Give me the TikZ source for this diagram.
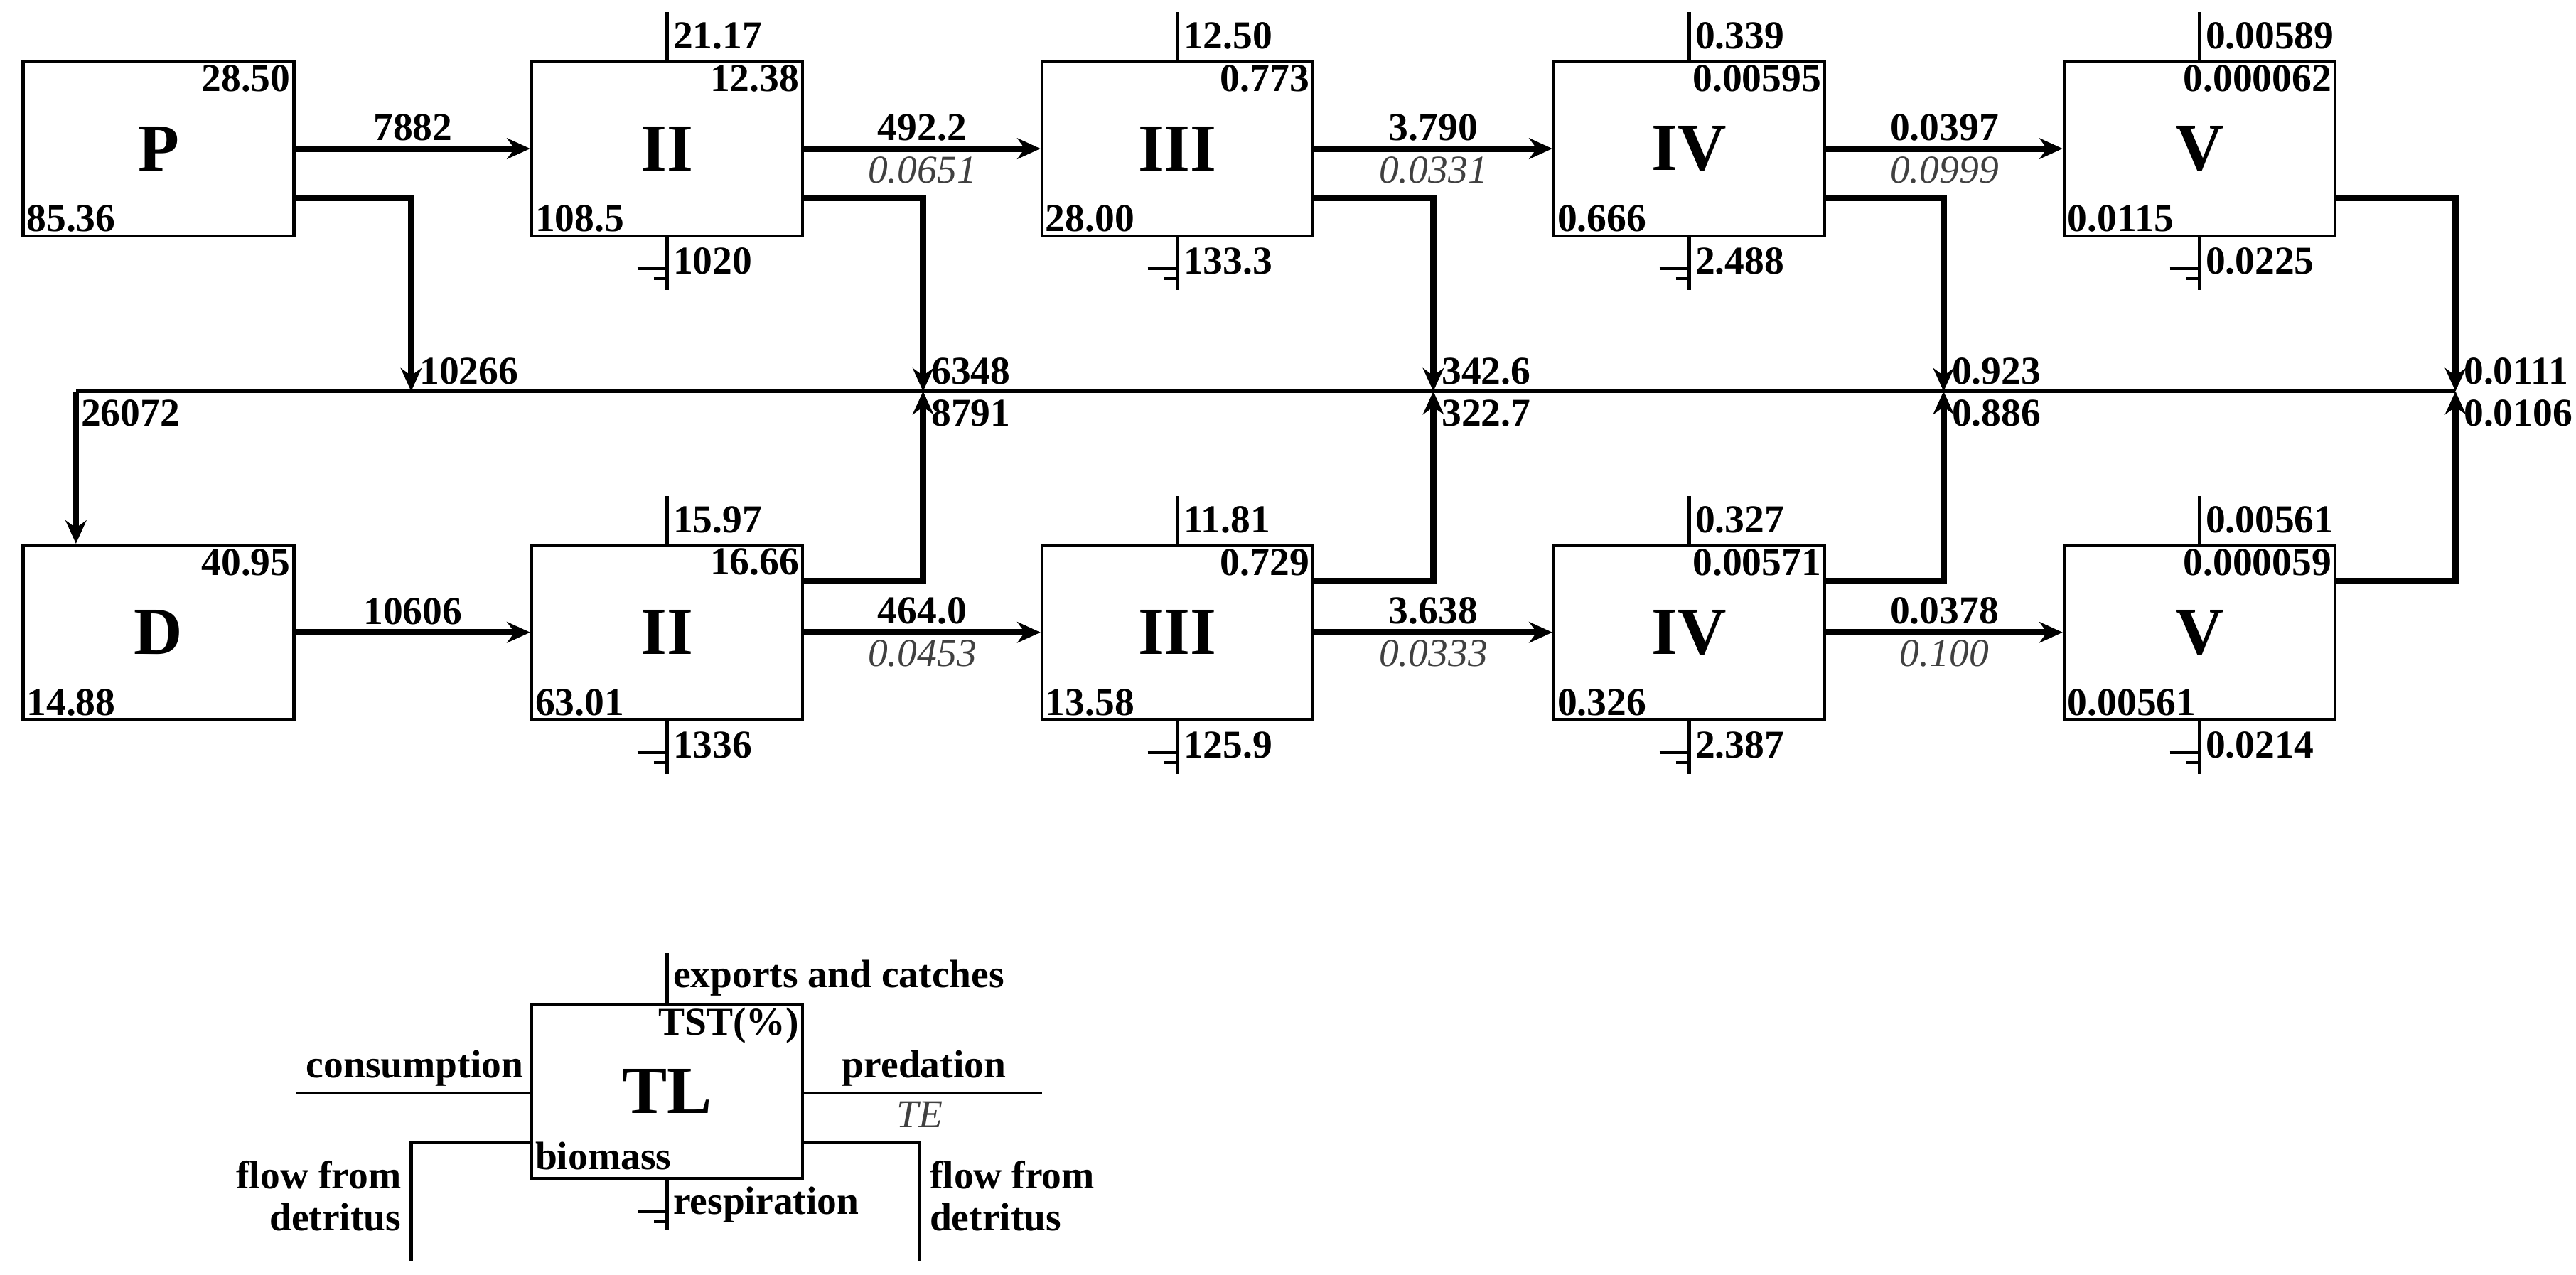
\documentclass[tikz,border=0pt]{standalone}
\usepackage{fontspec}
\setmainfont{Liberation Serif}
\usetikzlibrary{arrows.meta,calc}
\begin{document}
\begin{tikzpicture}[x=0.025cm,y=-0.025cm,
 box/.style={draw,line width=1.3pt,minimum width=4.1cm,minimum height=2.64cm,inner sep=0pt,font=\fontsize{29}{30}\selectfont\bfseries},
 val/.style={font=\fontsize{17}{18}\selectfont\bfseries,inner sep=2pt},
 te/.style={font=\fontsize{17}{18}\selectfont\itshape,text=black!75,inner sep=2pt},
 flow/.style={line width=2.8pt,-{Stealth[length=10pt,width=9pt]}},
 fl/.style={line width=2.8pt},
 thn/.style={line width=1.3pt}]
\useasboundingbox (0,0) rectangle (1560,772);
% boxes
\foreach \n/\t/\x in {P/P/96,A/II/404,B/III/713,C/IV/1023,E/V/1332}
  \node[box] (t\n) at (\x,90) {\t};
\foreach \n/\t/\x in {P/D/96,A/II/404,B/III/713,C/IV/1023,E/V/1332}
  \node[box] (b\n) at (\x,383) {\t};
% corner values
\foreach \n/\a/\b in {tP/28.50/85.36,tA/12.38/108.5,tB/0.773/28.00,tC/0.00595/0.666,tE/0.000062/0.0115,
 bP/40.95/14.88,bA/16.66/63.01,bB/0.729/13.58,bC/0.00571/0.326,bE/0.000059/0.00561}{
  \node[val,anchor=north east] (\n ne) at (\n.north east) {\a};
  \node[val,anchor=south west] (\n sw) at (\n.south west) {\b};}
% exports and respiration
\foreach \n/\a/\b in {tA/21.17/1020,tB/12.50/133.3,tC/0.339/2.488,tE/0.00589/0.0225,
 bA/15.97/1336,bB/11.81/125.9,bC/0.327/2.387,bE/0.00561/0.0214}{
  \draw[thn] (\n.north) -- ++(0,-29) node[pos=0.5,right,val] (\n ex) {\a};
  \draw[thn] (\n.south) -- ++(0,32) node[pos=0.45,right,val] (\n rs) {\b};
  \draw[thn] ($(\n.south)+(-18,19)$) -- ($(\n.south)+(0,19)$);
  \draw[thn] ($(\n.south)+(-8,25)$) -- ($(\n.south)+(0,25)$);}
% main flows
\draw[flow] (tP.east) -- (tA.west) node[midway,above,val] {7882};
\draw[flow] (tA.east) -- (tB.west) node[midway,above,val] {492.2} node[midway,below,te] {0.0651};
\draw[flow] (tB.east) -- (tC.west) node[midway,above,val] {3.790} node[midway,below,te] {0.0331};
\draw[flow] (tC.east) -- (tE.west) node[midway,above,val] {0.0397} node[midway,below,te] {0.0999};
\draw[flow] (bP.east) -- (bA.west) node[midway,above,val] {10606};
\draw[flow] (bA.east) -- (bB.west) node[midway,above,val] {464.0} node[midway,below,te] {0.0453};
\draw[flow] (bB.east) -- (bC.west) node[midway,above,val] {3.638} node[midway,below,te] {0.0333};
\draw[flow] (bC.east) -- (bE.west) node[midway,above,val] {0.0378} node[midway,below,te] {0.100};
% detritus
\coordinate (d0) at (46,237);
\coordinate (dP) at (249,237);
\coordinate (dA) at (559,237);
\coordinate (dB) at (868,237);
\coordinate (dC) at (1177,237);
\coordinate (dE) at (1487,237);
\draw[thn] (d0) -- (dE);
\draw[flow] (d0) -- (d0 |- bP.north);
\node[val,anchor=north west] at ($(d0)+(0,2)$) {26072};
\foreach \n/\a/\b in {P/10266/,A/6348/8791,B/342.6/322.7,C/0.923/0.886,E/0.0111/0.0106}{
  \draw[flow] ($(t\n.east)+(0,30)$) -| (d\n);
  \node[val,anchor=south west] at ($(d\n)+(2,-1)$) {\a};}
\foreach \n/\b in {A/8791,B/322.7,C/0.886,E/0.0106}{
  \draw[flow] ($(b\n.east)+(0,-31)$) -| (d\n);
  \node[val,anchor=north west] at ($(d\n)+(2,2)$) {\b};}
% legend
\node[box,minimum height=2.64cm] (TL) at (404,661) {TL};
\node[val,anchor=north east] at (TL.north east) {TST(\%)};
\node[val,anchor=south west] at ($(TL.south west)+(0,-3)$) {biomass};
\draw[thn] (TL.north) -- ++(0,-30) node[pos=0.5,right,val] {exports and catches};
\draw[thn] (TL.south) -- ++(0,30) node[pos=0.5,right,val] {respiration};
\draw[thn] ($(TL.south)+(-18,19)$) -- ($(TL.south)+(0,19)$);
\draw[thn] ($(TL.south)+(-8,25)$) -- ($(TL.south)+(0,25)$);
\coordinate (cs) at (179,662);
\coordinate (pr) at (631,662);
\draw[thn] (cs) -- (cs -| TL.west);
\node[val,anchor=south east] at ($(TL.west |- cs)+(-1,-1)$) {consumption};
\draw[thn] (TL.east |- pr) -- (pr);
\node[val,anchor=south west] at ($(TL.east |- pr)+(20,-1)$) {predation};
\node[te,anchor=north] at (557,664) {TE};
\coordinate (fl) at (249,764);
\coordinate (fr) at (557,764);
\draw[thn] (TL.west |- 0,692) -| (fl);
\draw[thn] (TL.east |- 0,692) -| (fr);
\node[val,anchor=north east,align=right] at (246,700) {flow from\\detritus};
\node[val,anchor=north west,align=left] at (560,700) {flow from\\detritus};
\end{tikzpicture}
\end{document}
